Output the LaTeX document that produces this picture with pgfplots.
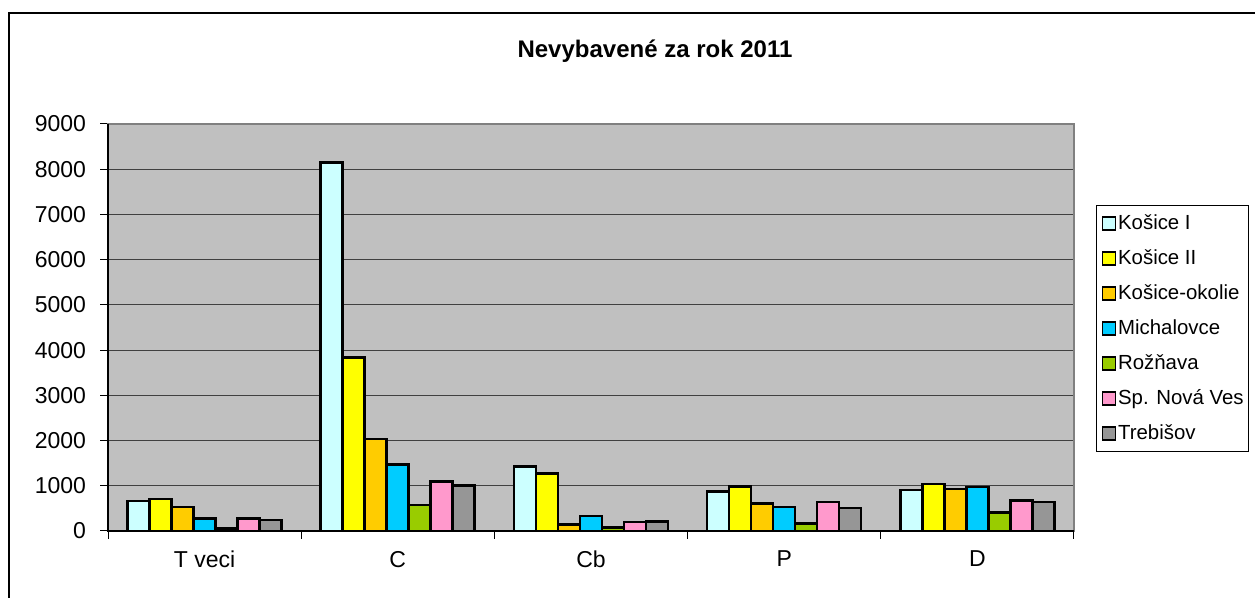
\documentclass[border=0pt]{standalone}
\usepackage{pgfplots}
\pgfplotsset{compat=1.18}
\usepackage{fontspec}
\setmainfont{Liberation Sans}

\definecolor{bg}{HTML}{C0C0C0}
\definecolor{kI}{HTML}{CCFFFF}
\definecolor{kII}{HTML}{FFFF00}
\definecolor{kok}{HTML}{FFCC00}
\definecolor{mi}{HTML}{00CCFF}
\definecolor{ro}{HTML}{99CC00}
\definecolor{sn}{HTML}{FF99CC}
\definecolor{tr}{HTML}{969696}

\begin{document}
\begin{tikzpicture}
\path[use as bounding box] (0pt,0pt) rectangle (627.5pt,299pt);
\draw[line width=0.8pt] (4.5pt,0pt) -- (4.5pt,292.5pt) -- (627.5pt,292.5pt);
\node[font=\bfseries\fontsize{12}{14}\selectfont] at (327.5pt,273.25pt) {Nevybavené za rok 2011};

\begin{axis}[
    at={(54pt,33.5pt)}, anchor=south west,
    scale only axis,
    width=483pt, height=203.5pt,
    ybar=0pt, bar width=11pt,
    xmin=-0.5, xmax=4.5,
    ymin=0, ymax=9000,
    xtick={-0.5,0.5,1.5,2.5,3.5,4.5},
    xticklabels={T veci,C,Cb,P,D,},
    x tick label style={xshift=48.3pt, yshift=-2.5pt},
    y tick label style={xshift=-3.5pt},
    ytick={0,1000,...,9000},
    scaled y ticks=false,
    /pgf/number format/1000 sep={},
    /pgf/number format/assume math mode=true,
    tick label style={font=\fontsize{11.5}{13}\selectfont},
    tick align=outside, tick pos=left,
    major tick length=4pt,
    tick style={black, line width=0.5pt},
    ymajorgrids,
    major grid style={black!75, line width=0.6pt},
    axis background/.style={fill=bg},
    axis line style={draw=gray, line width=0.8pt},
    after end axis/.code={
        \draw[black, line width=0.8pt] (rel axis cs:0,1) -- (rel axis cs:0,0) -- (rel axis cs:1,0);
    },
    every axis plot/.append style={
        draw=black, line width=1.3pt,
        legend image code/.code={
            \draw[##1, draw=black, line width=0.8pt] (0pt,-3.25pt) rectangle (6.5pt,3.25pt);
        }
    },
    legend style={
        at={(1.0228,0.801)}, anchor=north west,
        draw=black, line width=0.5pt,
        font=\fontsize{10.2}{12}\selectfont,
        inner xsep=2.5pt, inner ysep=0.25pt,
        row sep=0pt,
        nodes={inner sep=0pt, minimum height=17.5pt},
        /tikz/every odd column/.style={column sep=1pt},
    },
    legend cell align=left,
]

\addplot[fill=kI] coordinates {(0,667) (1,8150) (2,1430) (3,867) (4,904)};
\addlegendentry{Košice I}
\addplot[fill=kII] coordinates {(0,704) (1,3840) (2,1267) (3,978) (4,1037)};
\addlegendentry{Košice II}
\addplot[fill=kok] coordinates {(0,527) (1,2038) (2,149) (3,608) (4,926)};
\addlegendentry{Košice-okolie}
\addplot[fill=mi] coordinates {(0,282) (1,1467) (2,333) (3,527) (4,970)};
\addlegendentry{Michalovce}
\addplot[fill=ro] coordinates {(0,53) (1,578) (2,82) (3,163) (4,408)};
\addlegendentry{Rožňava}
\addplot[fill=sn] coordinates {(0,275) (1,1089) (2,200) (3,645) (4,675)};
\addlegendentry{Sp. Nová Ves}
\addplot[fill=tr] coordinates {(0,245) (1,1009) (2,216) (3,504) (4,637)};
\addlegendentry{Trebišov}

\end{axis}
\end{tikzpicture}
\end{document}
